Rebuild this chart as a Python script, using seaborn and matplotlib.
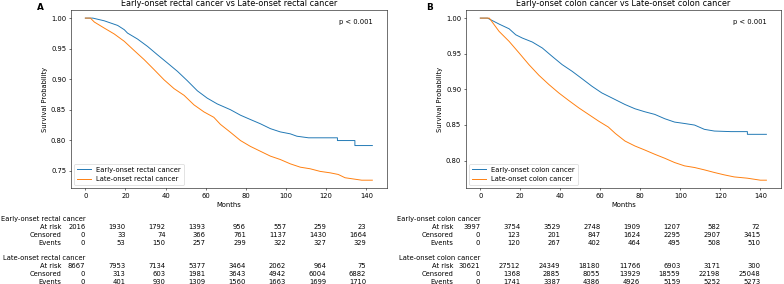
import numpy as np
import pandas as pd
import matplotlib
matplotlib.use('Agg')
import matplotlib.pyplot as plt
import matplotlib.transforms as mtransforms
import seaborn as sns

# 곡선 값 (그림에서 읽은 생존확률)
rectal_early_months = [0, 3.7, 9.4, 16.1, 19.4, 21, 26, 31, 35.9, 40.9, 45.9, 50.8, 55.8, 60.7, 65.7,
                       72.3, 77.3, 82.2, 87.2, 92.2, 97.1, 102.1, 105.4, 111.2, 125.6, 125.6, 134.3, 134.3, 143]
rectal_early_surv = [1.0, 1.0, 0.9956, 0.988, 0.981, 0.9755, 0.9657, 0.9536, 0.940, 0.9265, 0.9128, 0.8975, 0.881,
                     0.869, 0.8595, 0.850, 0.841, 0.834, 0.827, 0.819, 0.8137, 0.8105, 0.8066, 0.804, 0.804,
                     0.7995, 0.7995, 0.7913, 0.7913]
rectal_late_months = [0, 2.5, 4.5, 9.4, 14.4, 19.4, 24.3, 29.3, 34.3, 39.2, 44.2, 49.2, 54.1, 59.1, 64, 67.3,
                      72.3, 77.3, 82.2, 87.2, 92.2, 97.1, 102.1, 107.1, 112, 117, 121.9, 126, 129.4, 137.7, 143]
rectal_late_surv = [1.0, 1.0, 0.9935, 0.9837, 0.974, 0.962, 0.947, 0.932, 0.9155, 0.899, 0.8845, 0.8735, 0.858,
                    0.8464, 0.8376, 0.826, 0.813, 0.7995, 0.790, 0.782, 0.774, 0.7685, 0.7614, 0.7559, 0.7533,
                    0.749, 0.7467, 0.744, 0.7386, 0.7346, 0.7346]
colon_early_months = [0, 3.6, 9.4, 14.4, 17.7, 21, 26, 31, 35.9, 40.9, 45.9, 50.8, 55.8, 60.7, 65.7, 72.3,
                      77.3, 82.2, 87.2, 92.2, 97.1, 102.1, 107.1, 112, 117, 125.3, 133.5, 133.5, 143]
colon_early_surv = [1.0, 1.0, 0.9916, 0.985, 0.9766, 0.972, 0.9664, 0.958, 0.9463, 0.9347, 0.9253, 0.915, 0.9043,
                    0.895, 0.888, 0.8787, 0.8727, 0.8685, 0.8648, 0.8587, 0.854, 0.852, 0.8498, 0.8438, 0.8414,
                    0.8406, 0.8406, 0.8368, 0.8368]
colon_late_months = [0, 4.5, 9.4, 14.4, 19.4, 24.3, 29.3, 34.3, 39.2, 44.2, 49.2, 54.1, 59.1, 64, 67.5, 72.3,
                     77.3, 82.2, 87.2, 92.2, 97.1, 102.1, 107.1, 112, 117, 121.9, 126.9, 133.5, 140, 143]
colon_late_surv = [1.0, 1.0, 0.9813, 0.9673, 0.951, 0.9347, 0.9197, 0.9067, 0.895, 0.8843, 0.874, 0.8648, 0.8554,
                   0.847, 0.838, 0.8274, 0.8204, 0.8148, 0.8088, 0.8032, 0.7972, 0.7925, 0.7902, 0.7869, 0.7832,
                   0.7799, 0.777, 0.7752, 0.7724, 0.7724]

# at-risk 표
table_months = [0, 20, 40, 60, 80, 100, 120, 140]
rectal_early_atrisk = [2016, 1930, 1792, 1393, 956, 557, 259, 23]
rectal_early_censored = [0, 33, 74, 366, 761, 1137, 1430, 1664]
rectal_early_events = [0, 53, 150, 257, 299, 322, 327, 329]
rectal_late_atrisk = [8667, 7953, 7134, 5377, 3464, 2062, 964, 75]
rectal_late_censored = [0, 313, 603, 1981, 3643, 4942, 6004, 6882]
rectal_late_events = [0, 401, 930, 1309, 1560, 1663, 1699, 1710]
colon_early_atrisk = [3997, 3754, 3529, 2748, 1909, 1207, 582, 72]
colon_early_censored = [0, 123, 201, 847, 1624, 2295, 2907, 3415]
colon_early_events = [0, 120, 267, 402, 464, 495, 508, 510]
colon_late_atrisk = [30621, 27512, 24349, 18180, 11766, 6903, 3171, 300]
colon_late_censored = [0, 1368, 2885, 8055, 13929, 18559, 22198, 25048]
colon_late_events = [0, 1741, 3387, 4386, 4926, 5159, 5252, 5273]

DPI = 49
fig = plt.figure(figsize=(784 / DPI, 284 / DPI), dpi=DPI)


def make_df(early_m, early_s, late_m, late_s, early_label, late_label):
    d1 = pd.DataFrame({'month': early_m, 'surv': early_s, 'group': early_label})
    d2 = pd.DataFrame({'month': late_m, 'surv': late_s, 'group': late_label})
    return pd.concat([d1, d2], ignore_index=True)


def draw_panel(rect, df, early_label, late_label, title, letter, letter_x, rows, label_offset_px):
    ax = fig.add_axes(rect)
    sns.lineplot(data=df, x='month', y='surv', hue='group', hue_order=[early_label, late_label],
                 palette=['tab:blue', 'tab:orange'], estimator=None, sort=False, legend=False, ax=ax,
                 linewidth=1.4)
    ax.set_xticks(table_months)
    ax.set_xlabel('Months')
    ax.set_ylabel('Survival Probability')
    ax.set_title(title)
    ax.legend(ax.lines[:2], [early_label, late_label], loc='lower left')
    ax.text(0.955, 0.95, 'p < 0.001', transform=ax.transAxes, ha='right', va='top')
    fig.text(letter_x, 0.975, letter, fontsize=13, fontweight='bold', ha='center', va='center')

    # at-risk 표 (축 아래)
    trans = mtransforms.blended_transform_factory(ax.transData, fig.transFigure)
    row_names = ['At risk', 'Censored', 'Events']
    for (grp_label, vals), start in zip(rows, [0, 5]):
        y0 = 1 - (219.5 + 7.8 * start) / 284
        ax.text(0, y0, grp_label, transform=trans, ha='right', va='center', clip_on=False)
        for k, (name, v) in enumerate(zip(row_names, vals)):
            y = 1 - (219.5 + 7.8 * (start + 1 + k)) / 284
            ax.annotate(name, xy=(0, y), xycoords=trans, xytext=(-label_offset_px, 0),
                        textcoords='offset pixels', ha='right', va='center', annotation_clip=False)
            for m, n in zip(table_months, v):
                ax.text(m, y, str(n), transform=trans, ha='right', va='center', clip_on=False)
    return ax


df_a = make_df(rectal_early_months, rectal_early_surv, rectal_late_months, rectal_late_surv,
               'Early-onset rectal cancer', 'Late-onset rectal cancer')
draw_panel([71 / 784, 0.337, 315.7 / 784, 0.6278], df_a,
           'Early-onset rectal cancer', 'Late-onset rectal cancer',
           'Early-onset rectal cancer vs Late-onset rectal cancer', 'A', 40 / 784,
           [('Early-onset rectal cancer', [rectal_early_atrisk, rectal_early_censored, rectal_early_events]),
            ('Late-onset rectal cancer', [rectal_late_atrisk, rectal_late_censored, rectal_late_events])],
           24)

df_b = make_df(colon_early_months, colon_early_surv, colon_late_months, colon_late_surv,
               'Early-onset colon cancer', 'Late-onset colon cancer')
draw_panel([466 / 784, 0.337, 314.7 / 784, 0.6278], df_b,
           'Early-onset colon cancer', 'Late-onset colon cancer',
           'Early-onset colon cancer vs Late-onset colon cancer', 'B', 429.5 / 784,
           [('Early-onset colon cancer', [colon_early_atrisk, colon_early_censored, colon_early_events]),
            ('Late-onset colon cancer', [colon_late_atrisk, colon_late_censored, colon_late_events])],
           27)

fig.savefig('out.png', dpi=DPI)
